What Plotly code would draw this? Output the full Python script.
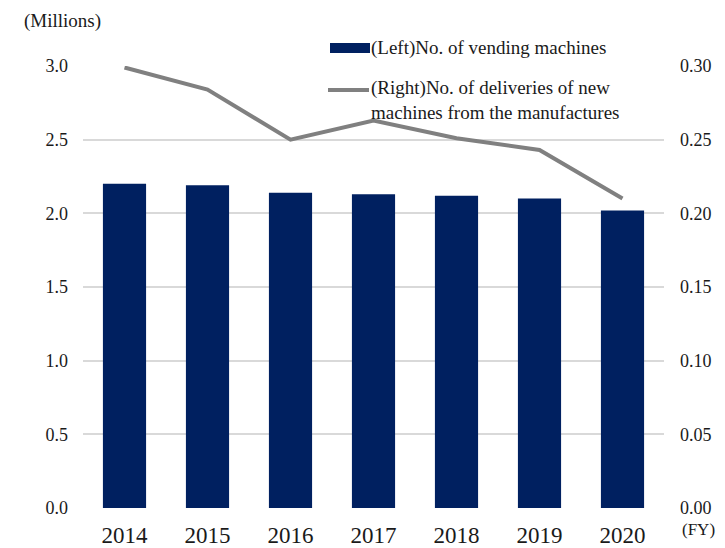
import plotly.graph_objects as go

# Fiscal years and the two series
years = ["2014", "2015", "2016", "2017", "2018", "2019", "2020"]
vending_machines = [2.20, 2.19, 2.14, 2.13, 2.12, 2.10, 2.02]        # millions, left axis
new_deliveries = [0.299, 0.284, 0.250, 0.263, 0.251, 0.243, 0.210]   # millions, right axis

bar_color = "#002060"
line_color = "#808080"
grid_color = "#d9d9d9"
text_color = "#1a1a1a"
serif = "Liberation Serif, Times New Roman, serif"

fig = go.Figure()
fig.add_trace(go.Bar(
    x=years, y=vending_machines, marker=dict(color=bar_color, line=dict(width=0)),
    name="(Left)No. of vending machines", yaxis="y", showlegend=False,
))
fig.add_trace(go.Scatter(
    x=years, y=new_deliveries, mode="lines", line=dict(color=line_color, width=4),
    name="(Right)No. of deliveries of new machines from the manufactures",
    yaxis="y2", showlegend=False,
))

# plot area in pixels: x 83..664, y 66..508
L, R, T, B = 83, 664, 66, 508
W, H = 725, 548

def px(x):
    return (x - L) / (R - L)

def py(y):
    return (B - y) / (B - T)

shapes = [
    dict(type="rect", xref="paper", yref="paper",
         x0=px(330), x1=px(370), y0=py(53), y1=py(43),
         fillcolor=bar_color, line=dict(width=0)),
    dict(type="line", xref="paper", yref="paper",
         x0=px(328), x1=px(369), y0=py(90), y1=py(90),
         line=dict(color=line_color, width=4)),
]

annotations = [
    dict(text="(Left)No. of vending machines", x=px(369), y=py(48),
         xanchor="left", yanchor="middle", size=19),
    dict(text="(Right)No. of deliveries of new<br>machines from the manufactures",
         x=px(369), y=py(100), xanchor="left", yanchor="middle", align="left", size=19),
    dict(text="(Millions)", x=px(22), y=py(21), xanchor="left", yanchor="middle", size=19),
    dict(text="(FY)", x=px(680), y=py(529), xanchor="left", yanchor="middle", size=17),
]
for a in annotations:
    size = a.pop("size")
    a.update(xref="paper", yref="paper", showarrow=False,
             font=dict(family=serif, size=size, color=text_color))

fig.update_layout(
    width=W, height=H,
    margin=dict(l=L, r=W - R, t=T, b=H - B, pad=0),
    paper_bgcolor="white", plot_bgcolor="white",
    bargap=0.48,
    font=dict(family=serif, color=text_color),
    xaxis=dict(showgrid=False, showline=False, zeroline=False, automargin=False,
               tickfont=dict(size=23, family=serif, color=text_color),
               ticks="", ticklabelstandoff=11),
    yaxis=dict(range=[0, 3.0], dtick=0.5, tickformat=".1f", automargin=False,
               showgrid=True, gridcolor=grid_color, gridwidth=1.5,
               zeroline=False, showline=False, ticks="",
               tickfont=dict(size=18, family=serif, color=text_color),
               ticklabelstandoff=14),
    yaxis2=dict(range=[0, 0.30], dtick=0.05, tickformat=".2f", automargin=False,
                overlaying="y", side="right", showgrid=False,
                zeroline=False, showline=False, ticks="",
                tickfont=dict(size=18, family=serif, color=text_color),
                ticklabelstandoff=15),
    shapes=shapes,
    annotations=annotations,
)

fig.write_html("out.html")
